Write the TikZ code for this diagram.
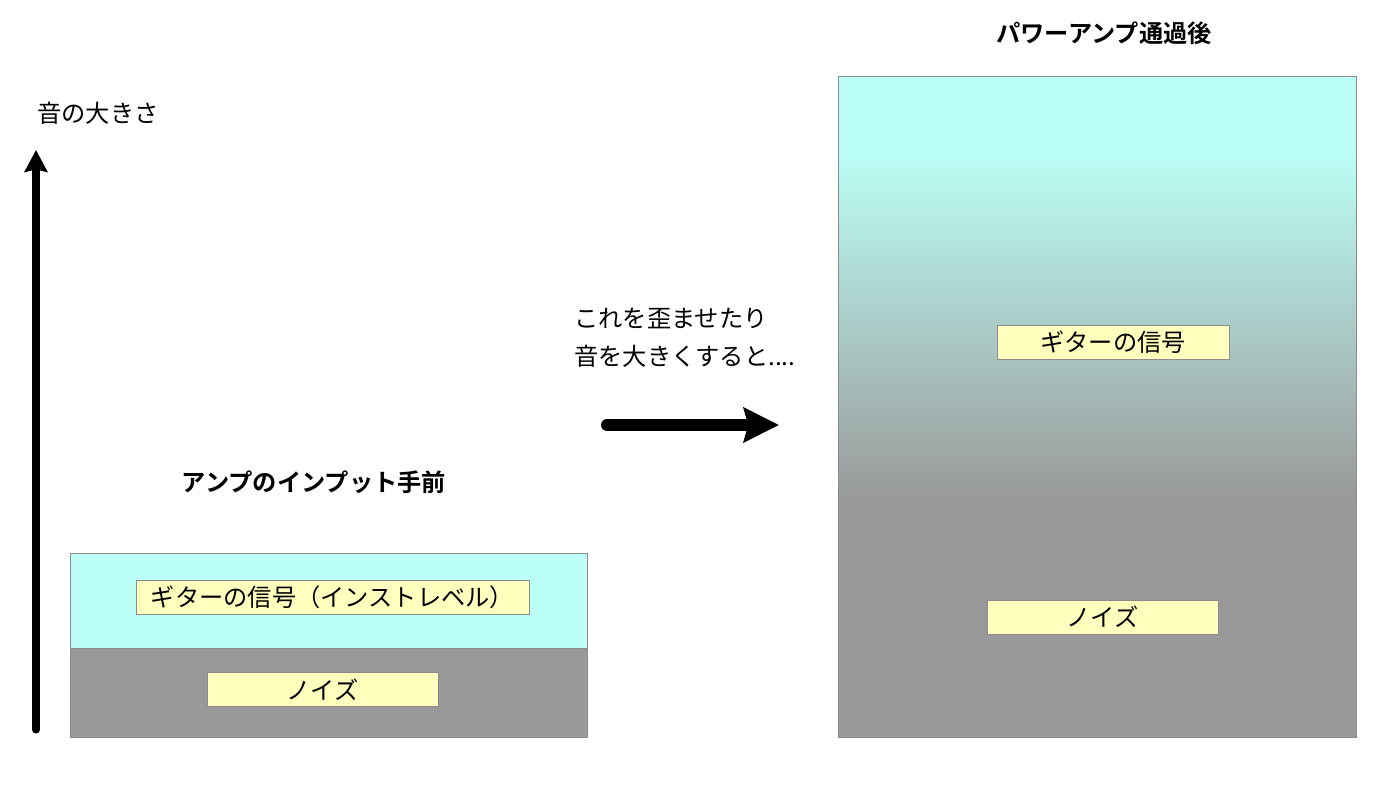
\documentclass[tikz,border=0pt]{standalone}
\usepackage{fontspec}
\setmainfont{Noto Sans CJK JP}[BoldFont={Noto Sans CJK JP Bold}]
\usepackage{tikz}
\usetikzlibrary{arrows.meta,positioning}
\definecolor{sigcyan}{HTML}{BBFFF6}
\definecolor{noisegray}{HTML}{999999}
\definecolor{labelyellow}{HTML}{FFFFBE}
\definecolor{edgegray}{HTML}{8C8C8C}
\newcommand{\jpsize}{\fontsize{13.8pt}{16pt}\selectfont}
\tikzset{
  lab/.style={draw=edgegray,fill=labelyellow,inner sep=0pt,minimum height=0.69cm,font=\jpsize},
  txt/.style={inner sep=0pt,font=\jpsize},
  ttl/.style={inner sep=0pt,font=\jpsize\bfseries},
}

\begin{document}
\begin{tikzpicture}[x=0.02cm,y=-0.02cm]
\useasboundingbox (0,0) rectangle (1400,788);
%axis
\coordinate (axb) at (36,730);
\coordinate (axt) at (36,150);
\draw[line width=4pt,line cap=round,-{Stealth[length=12.5pt,width=13pt,inset=1.5pt]}] (axb) -- (axt);
\node[txt] (vol) at (98,113) {音の大きさ};
%box1
\fill[sigcyan] (70,553) rectangle (587,648);
\fill[noisegray] (70,648) rectangle (587,737);
\draw[edgegray] (70,553) rectangle (587,737);
\draw[edgegray] (70,648) -- (587,648);
\node[lab,minimum width=7.86cm] (sigin) at (332.5,597.5) {ギターの信号（インストレベル）};
\node[lab,minimum width=4.62cm] (noisein) at (322.5,689.5) {ノイズ};
\node[ttl] (tin) at (314,482) {アンプのインプット手前};
%middle
\node[txt,anchor=west] (cap1) at (574,319) {これを歪ませたり};
\node[txt,anchor=west] (cap2) at (574,356) {音を大きくすると....};
\coordinate (arl) at (607,425);
\coordinate (arr) at (779,425);
\draw[line width=6.8pt,line cap=round,-{Stealth[length=20pt,width=19.5pt,inset=2.5pt]}] (arl) -- (arr);
%box2
\fill[sigcyan] (838,76) rectangle (1356,150);
\shade[top color=sigcyan,bottom color=noisegray] (838,150) rectangle (1356,500);
\fill[noisegray] (838,500) rectangle (1356,737);
\draw[edgegray] (838,76) rectangle (1356,737);
\node[lab,minimum width=4.64cm,minimum height=0.68cm] (sigout) at (1113,342) {ギターの信号};
\node[lab,minimum width=4.62cm,minimum height=0.68cm] (noiseout) at (1102.5,617) {ノイズ};
\node[ttl] (tout) at (1104,33) {パワーアンプ通過後};
\end{tikzpicture}
\end{document}
